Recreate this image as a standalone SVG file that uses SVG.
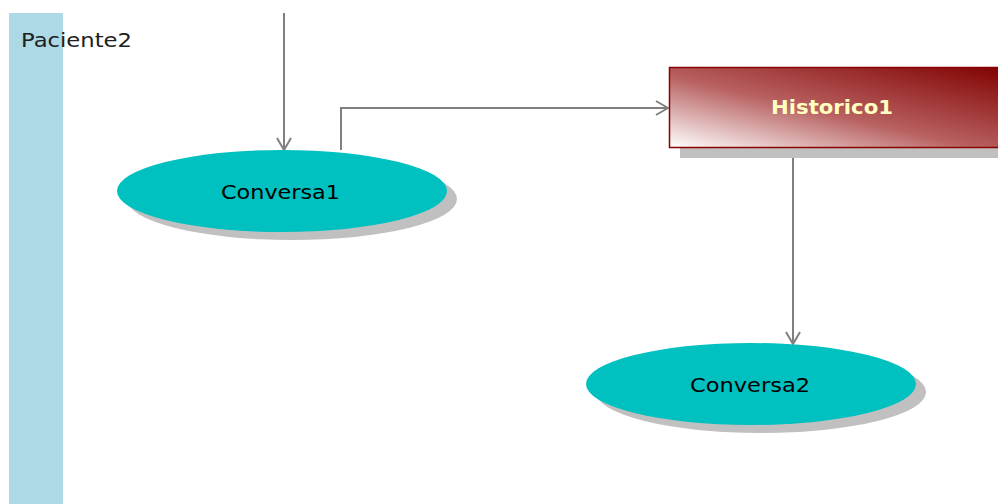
<svg xmlns="http://www.w3.org/2000/svg" width="998" height="504" viewBox="0 0 998 504">
<style>
.lbl{font-family:"DejaVu Sans","Liberation Sans",sans-serif;font-size:19px;fill:#000}
.hist{font-family:"DejaVu Sans","Liberation Sans",sans-serif;font-size:19px;font-weight:bold;fill:#FFFFC0}
.shadow{fill:#C0C0C0}
.uc{fill:#00C0C0}
.conn{fill:none;stroke:#808080;stroke-width:2}
</style>
<defs>
<linearGradient id="g" x1="0" y1="1" x2="1" y2="0">
<stop offset="0" stop-color="#FFFFFF"/>
<stop offset="0.45" stop-color="#B86060"/>
<stop offset="1" stop-color="#800000"/>
</linearGradient>
<marker id="arr" viewBox="0 0 14 16" refX="13" refY="8" markerWidth="14" markerHeight="16" markerUnits="userSpaceOnUse" orient="auto">
<path d="M1,1 L13,8 L1,15" fill="none" stroke="#808080" stroke-width="2"/>
</marker>
</defs>
<rect width="998" height="504" fill="#FFFFFF"/>
<g id="lane">
<rect x="9" y="13" width="54" height="491" fill="#ADD8E6"/>
<text x="21" y="47" class="lbl" style="fill:#202020" textLength="111" lengthAdjust="spacingAndGlyphs">Paciente2</text>
</g>
<g id="connectors">
<path class="conn" d="M284,13 L284,150" marker-end="url(#arr)"/>
<path class="conn" d="M341,150 L341,108 L668,108" marker-end="url(#arr)"/>
<path class="conn" d="M793,148 L793,344" marker-end="url(#arr)"/>
</g>
<g id="Conversa1">
<ellipse class="shadow" cx="292" cy="199" rx="165" ry="41"/>
<ellipse class="uc" cx="282" cy="191" rx="165" ry="41"/>
<text x="221" y="199" class="lbl" textLength="119" lengthAdjust="spacingAndGlyphs">Conversa1</text>
</g>
<g id="Historico1">
<rect class="shadow" x="680" y="78" width="330" height="80"/>
<rect x="669.5" y="67.5" width="340" height="80" fill="url(#g)" stroke="#8B0000" stroke-width="1.5"/>
<text x="771" y="114" class="hist" textLength="122" lengthAdjust="spacingAndGlyphs">Historico1</text>
</g>
<g id="Conversa2">
<ellipse class="shadow" cx="761" cy="392" rx="165" ry="41"/>
<ellipse class="uc" cx="751" cy="384" rx="165" ry="41"/>
<text x="690" y="392" class="lbl" textLength="120" lengthAdjust="spacingAndGlyphs">Conversa2</text>
</g>
</svg>
